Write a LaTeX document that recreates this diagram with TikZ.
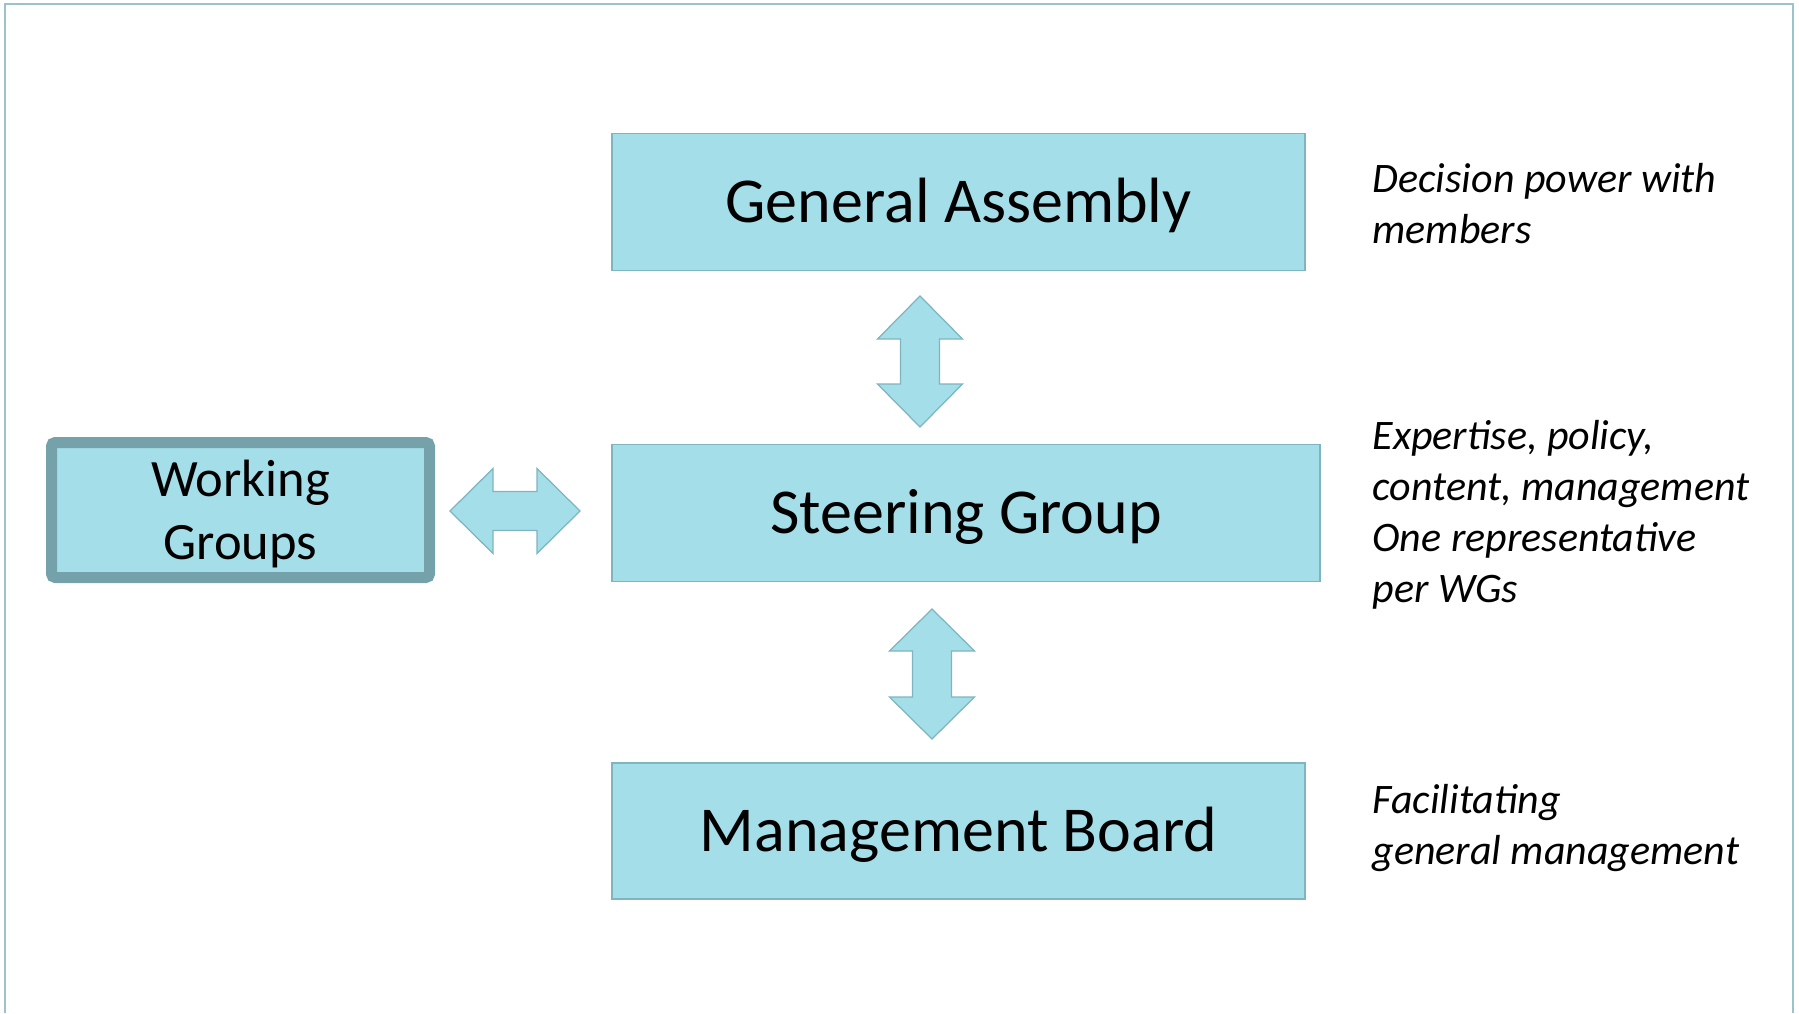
\documentclass[tikz,border=0pt]{standalone}
\usepackage{fontspec}
\setmainfont{Carlito}
\definecolor{boxfill}{HTML}{A4DEE8}
\definecolor{boxline}{HTML}{7EB5C0}
\definecolor{wgline}{HTML}{75A2AA}
\definecolor{frameline}{HTML}{9DC3CA}
\newcommand\lowertext[1]{\raisebox{-1.5pt}[\height][\depth]{#1}}
\tikzset{
  box/.style={draw=boxline, fill=boxfill, line width=0.6pt, inner sep=0pt,
    font=\fontsize{25.6pt}{31pt}\selectfont},
  wgbox/.style={draw=wgline, fill=boxfill, line width=4.4pt, rounded corners=1.5pt,
    inner sep=0pt, align=center, font=\fontsize{21pt}{25.3pt}\selectfont},
  note/.style={anchor=base west, inner sep=0pt, align=left,
    font=\fontsize{16.8pt}{20.3pt}\selectfont\itshape},
  blockarrow/.style={draw=boxline, fill=boxfill, line width=0.5pt, line join=miter}
}
\begin{document}
\begin{tikzpicture}[x=0.4pt, y=-0.4pt]
  \useasboundingbox (0,0) rectangle (1799,1013);
  % slide frame
  \draw [frameline, line width=0.7pt] (5,1013) -- (5,4) -- (1793,4) -- (1793,1013);

  % boxes
  \node [box, minimum width=693*0.4pt, minimum height=137*0.4pt] (ga) at (958.5,202) {\lowertext{General Assembly}};
  \node [box, minimum width=708*0.4pt, minimum height=137*0.4pt] (sg) at (966,513) {\lowertext{Steering Group}};
  \node [box, minimum width=693*0.4pt, minimum height=136*0.4pt] (mb) at (958.5,831) {\lowertext{Management Board}};
  \node [wgbox, minimum width=378*0.4pt, minimum height=135*0.4pt] (wg) at (240.5,510) {\lowertext{Working}\\\lowertext{Groups}};

  % block arrows
  \coordinate (gasg) at (920,296);
  \coordinate (sgmb) at (932,609);
  \coordinate (wgsg) at (450,511);
  \draw [blockarrow] (gasg) -- ++(42.5,43) -- ++(-23,0) -- ++(0,45) -- ++(23,0) -- ++(-42.5,43)
    -- ++(-42.5,-43) -- ++(23,0) -- ++(0,-45) -- ++(-23,0) -- cycle;
  \draw [blockarrow] (sgmb) -- ++(42.5,42) -- ++(-23,0) -- ++(0,46) -- ++(23,0) -- ++(-42.5,42)
    -- ++(-42.5,-42) -- ++(23,0) -- ++(0,-46) -- ++(-23,0) -- cycle;
  \draw [blockarrow] (wgsg) -- ++(43,-42.5) -- ++(0,23) -- ++(44,0) -- ++(0,-23) -- ++(43,42.5)
    -- ++(-43,42.5) -- ++(0,-23) -- ++(-44,0) -- ++(0,23) -- cycle;

  % notes
  \node [note] (gatext) at (1372,243) {Decision power with\\members};
  \node [note] (sgtext) at (1372,602) {Expertise, policy,\\content, management\\One representative\\per WGs};
  \node [note] (mbtext) at (1372,864) {Facilitating\\general management};
\end{tikzpicture}
\end{document}
